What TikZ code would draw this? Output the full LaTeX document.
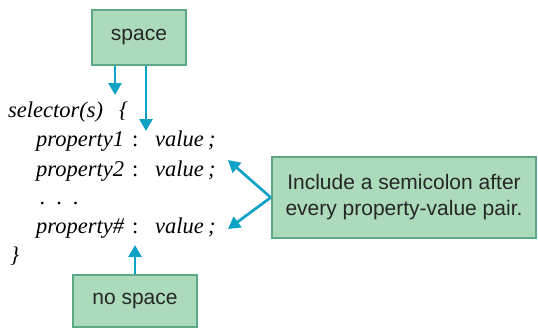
\documentclass[tikz,border=0pt]{standalone}
\usepackage{fontspec}
\setmainfont{Liberation Serif}
\newfontfamily\boxfont{Liberation Sans}
\usetikzlibrary{arrows.meta}
\definecolor{boxfill}{HTML}{ABDBBB}
\definecolor{boxline}{HTML}{5BAA85}
\definecolor{arrowc}{HTML}{0EA2C7}
\tikzset{
  callout/.style={draw=boxline, line width=2.5pt, fill=boxfill, inner sep=0pt,
    font=\boxfont\fontsize{21}{26}\selectfont, text=black!85, align=center},
  code/.style={inner sep=0pt, anchor=base west, font=\fontsize{22.5}{24}\selectfont\itshape},
  colon/.style={code, font=\fontsize{22.5}{24}\selectfont\upshape},
  pointer/.style={draw=arrowc, line width=2.7pt, -{Triangle[width=13pt,length=12pt]}}
}
\begin{document}
\begin{tikzpicture}[x=1pt,y=-1pt]
\useasboundingbox (0,0) rectangle (538,329);
% boxes
\node[callout, minimum width=94pt, minimum height=55pt] (space) at (139,37.5) {space};
\node[callout, minimum width=124pt, minimum height=52pt] (nospace) at (135,301) {no space};
\node[callout, minimum width=264pt, minimum height=81pt] (semi) at (404,197.5) {Include a semicolon after\\every property-value pair.};
% code
\node[code] (sel) at (8,117) {selector(s)};
\node[code] (lb) at (119,117) {\{};
\node[code] (p1) at (36,146) {property1};
\node[colon] (c1) at (132,146) {:};
\node[code] (v1) at (155,146) {value};
\node[code] (s1) at (208,146) {;};
\node[code] (p2) at (36,176) {property2};
\node[colon] (c2) at (132,176) {:};
\node[code] (v2) at (155,176) {value};
\node[code] (s2) at (208,176) {;};
\node[code] (dots) at (40,204) {.\hspace{11pt}.\hspace{11pt}.};
\node[code] (p3) at (36,233) {property\#};
\node[colon] (c3) at (132,233) {:};
\node[code] (v3) at (155,233) {value};
\node[code] (s3) at (208,233) {;};
\node[code] (rb) at (10,262) {\}};
% connectors
\coordinate (t1) at (115,95);
\coordinate (t2) at (146,131);
\coordinate (t3) at (135,245);
\coordinate (t4) at (228,160);
\coordinate (t5) at (228,229);
\draw[pointer] (space.south -| t1) -- (t1);
\draw[pointer] (space.south -| t2) -- (t2);
\draw[pointer] (nospace.north -| t3) -- (t3);
\draw[pointer] (semi.west) -- (t4);
\draw[pointer] (semi.west) -- (t5);
\end{tikzpicture}
\end{document}
